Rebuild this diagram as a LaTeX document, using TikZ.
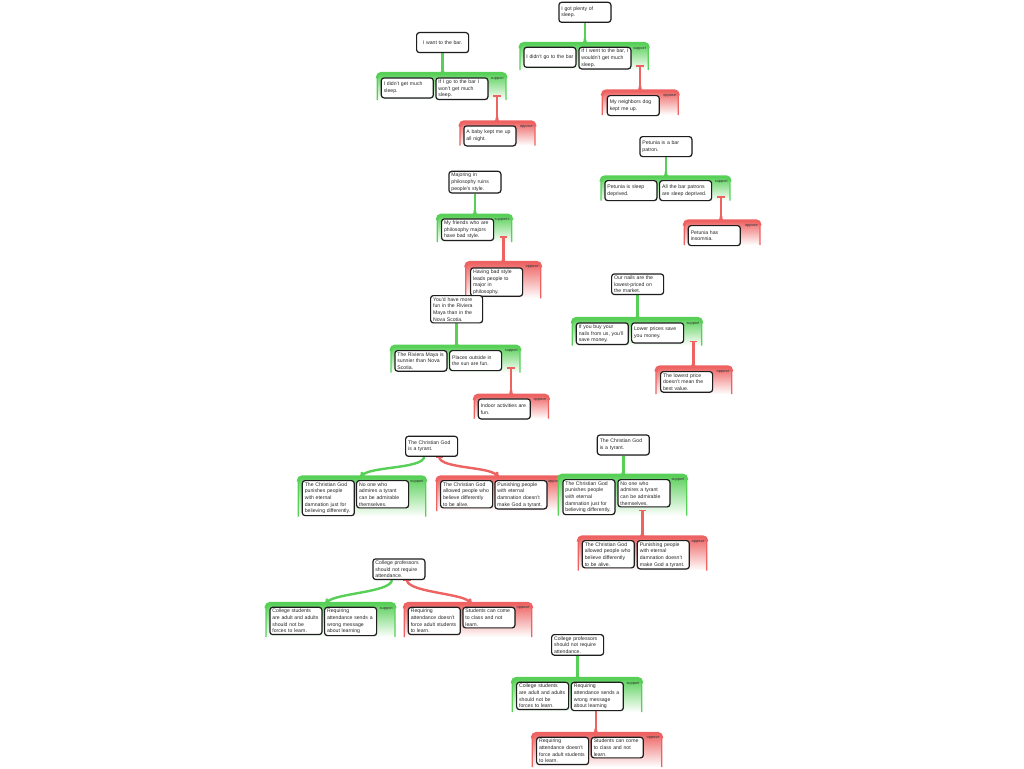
\documentclass[tikz,border=0pt]{standalone}
\usepackage{fontspec}
\setmainfont{Liberation Sans}
\usetikzlibrary{calc,shadows}
\definecolor{gcol}{RGB}{88,208,88}
\definecolor{rcol}{RGB}{238,98,98}
\definecolor{boxline}{RGB}{30,30,30}
\pgfdeclarelayer{bgzero}
\pgfdeclarelayer{bgone}
\pgfsetlayers{bgzero,bgone,main}

% container: color, x1, y1, x2, y2, label, name
\newcommand\argcont[7]{%
  \shade[top color=#1, bottom color=white]
    (#2,#5) -- (#2,#3+4) .. controls (#2,#3+1.8) and (#2+1.8,#3) .. (#2+4,#3)
    -- (#4-4,#3) .. controls (#4-1.8,#3) and (#4,#3+1.8) .. (#4,#3+4) -- (#4,#5) -- cycle;
  \draw[#1, line width=1.3pt]
    (#2,#5) -- (#2,#3+4) .. controls (#2,#3+1.8) and (#2+1.8,#3) .. (#2+4,#3)
    -- (#4-4,#3) .. controls (#4-1.8,#3) and (#4,#3+1.8) .. (#4,#3+4) -- (#4,#5);
  \draw[#1, line width=2.8pt]
    (#2,#3+5) -- (#2,#3+4) .. controls (#2,#3+1.8) and (#2+1.8,#3) .. (#2+4,#3)
    -- (#4-4,#3) .. controls (#4-1.8,#3) and (#4,#3+1.8) .. (#4,#3+4) -- (#4,#3+5);
  \node[lbl] (#7) at (#4-2,#3+3.2) {#6};
}
\newcommand\myflare[2]{%
  \fill[#1] ($(#2)+(-5.5,0.6)$) .. controls ($(#2)+(-2.2,0)$) and ($(#2)+(-1.2,-1.2)$) .. ($(#2)+(-1.2,-4.8)$)
    -- ($(#2)+(1.2,-4.8)$) .. controls ($(#2)+(1.2,-1.2)$) and ($(#2)+(2.2,0)$) .. ($(#2)+(5.5,0.6)$) -- cycle;}
\newcommand\mytee[2]{%
  \draw[#1, line width=1.2pt] ($(#2)+(-3.6,0)$) -- ($(#2)+(3.6,0)$);}

\begin{document}
\begin{tikzpicture}[x=1pt,y=-1pt,
  box/.style={draw=boxline, line width=1.2pt, rounded corners=2.8pt, fill=white,
    text width=47pt, inner xsep=2.5pt, inner ysep=1.7pt, minimum height=20pt,
    align=left, anchor=north west, text=black!85,
    font=\fontsize{5.15}{6.7}\selectfont,
    drop shadow={shadow xshift=0.6pt, shadow yshift=-0.6pt, opacity=0.3}},
  lbl/.style={font=\fontsize{3.9}{4.2}\selectfont, inner sep=0pt, anchor=north east, text=black!80},
  gstem/.style={draw=gcol, line width=2.4pt},
  rstem/.style={draw=rcol, line width=2.4pt}]

\begin{pgfonlayer}{bgzero}
\fill[white] (0,0) rectangle (1024,768);
\end{pgfonlayer}
\useasboundingbox (0,0) rectangle (1024,768);

% ---------------- Map A
\node[box, align=center] (cA) at (416,32) {I want to the bar.};
\node[box] (pA1) at (380.7,77.3) {I didn't get much\\sleep.};
\node[box] (pA2) at (435.3,77.3) {If I go to the bar I\\won't get much\\sleep.};
\node[box] (rA1) at (463.3,125.3) {A baby kept me up\\all night.};
\begin{pgfonlayer}{bgzero}
\argcont{gcol}{377.3}{73.3}{506}{100}{support}{lgA}
\argcont{rcol}{460}{121.7}{535}{145.5}{oppose}{lrA}
\end{pgfonlayer}
\begin{pgfonlayer}{bgone}
\coordinate (jA) at (cA.south |- 0,73.3);
\draw[gstem] (cA.south) -- (jA); \myflare{gcol}{jA}
\coordinate (tA) at (497,96); \coordinate (kA) at (497,121.7);
\draw[rstem] (tA) -- (kA); \myflare{rcol}{kA} \mytee{rcol}{tA}
\end{pgfonlayer}

% ---------------- Map B
\node[box] (cB) at (558.3,1.7) {I got plenty of\\sleep.};
\node[box, align=center] (pB1) at (523.3,46.7) {I didn't go to the bar};
\node[box] (pB2) at (578.3,46.7) {If I went to the bar, I\\wouldn't get much\\sleep.};
\node[box] (rB1) at (606.7,95) {My neighbors dog\\kept me up.};
\begin{pgfonlayer}{bgzero}
\argcont{gcol}{520}{43.3}{648.3}{70}{support}{lgB}
\argcont{rcol}{602.3}{90.7}{678.3}{115}{oppose}{lrB}
\end{pgfonlayer}
\begin{pgfonlayer}{bgone}
\coordinate (jB) at (cB.south |- 0,43.3);
\draw[gstem] (cB.south) -- (jB); \myflare{gcol}{jB}
\coordinate (tB) at (640,66); \coordinate (kB) at (640,90.7);
\draw[rstem] (tB) -- (kB); \myflare{rcol}{kB} \mytee{rcol}{tB}
\end{pgfonlayer}

% ---------------- Map C
\node[box] (cC) at (639.3,136) {Petunia is a bar\\patron.};
\node[box] (pC1) at (604.3,180) {Petunia is sleep\\deprived.};
\node[box] (pC2) at (659,180) {All the bar patrons\\are sleep deprived.};
\node[box] (rC1) at (687.7,225) {Petunia has\\insomnia.};
\begin{pgfonlayer}{bgzero}
\argcont{gcol}{601}{176.7}{730}{200.7}{support}{lgC}
\argcont{rcol}{684.3}{220.7}{760}{245}{oppose}{lrC}
\end{pgfonlayer}
\begin{pgfonlayer}{bgone}
\coordinate (jC) at (cC.south |- 0,176.7);
\draw[gstem] (cC.south) -- (jC); \myflare{gcol}{jC}
\coordinate (tC) at (721,197); \coordinate (kC) at (721,220.7);
\draw[rstem] (tC) -- (kC); \myflare{rcol}{kC} \mytee{rcol}{tC}
\end{pgfonlayer}

% ---------------- Map D
\node[box] (cD) at (448.3,170.7) {Majoring in\\philosophy ruins\\people's style.};
\node[box] (pD1) at (441,218.3) {My friends who are\\philosophy majors\\have bad style.};
\node[box] (rD1) at (470,267.3) {Having bad style\\leads people to\\major in\\philosophy.};
\begin{pgfonlayer}{bgzero}
\argcont{gcol}{437.3}{215}{511.7}{242}{supports}{lgD}
\argcont{rcol}{465.7}{262.3}{540.7}{298.3}{oppose}{lrD}
\end{pgfonlayer}
\begin{pgfonlayer}{bgone}
\coordinate (jD) at (cD.south |- 0,215);
\draw[gstem] (cD.south) -- (jD); \myflare{gcol}{jD}
\coordinate (tD) at (503.3,237); \coordinate (kD) at (503.3,262.3);
\draw[rstem] (tD) -- (kD); \myflare{rcol}{kD} \mytee{rcol}{tD}
\end{pgfonlayer}

% ---------------- Map E
\node[box] (cE) at (430,295) {You'd have more\\fun in the Riviera\\Maya than in the\\Nova Scotia.};
\node[box] (pE1) at (394.3,350) {The Riviera Maya is\\sunnier than Nova\\Scotia.};
\node[box] (pE2) at (449,350) {Places outside in\\the sun are fun.};
\node[box] (rE1) at (477.7,398.3) {Indoor activities are\\fun.};
\begin{pgfonlayer}{bgzero}
\argcont{gcol}{391}{346}{520}{372.7}{support}{lgE}
\argcont{rcol}{474.3}{395}{548.5}{418.5}{oppose}{lrE}
\end{pgfonlayer}
\begin{pgfonlayer}{bgone}
\coordinate (jE) at (cE.south |- 0,346);
\draw[gstem] (cE.south) -- (jE); \myflare{gcol}{jE}
\coordinate (tE) at (511,368); \coordinate (kE) at (511,395);
\draw[rstem] (tE) -- (kE); \myflare{rcol}{kE} \mytee{rcol}{tE}
\end{pgfonlayer}

% ---------------- Map F
\node[box] (cF) at (611,273.3) {Our nails are the\\lowest-priced on\\the market.};
\node[box] (pF1) at (575.7,322.3) {If you buy your\\nails from us, you'll\\save money.};
\node[box] (pF2) at (631,322.3) {Lower prices save\\you money.};
\node[box] (rF1) at (660,371) {The lowest price\\doesn't mean the\\best value.};
\begin{pgfonlayer}{bgzero}
\argcont{gcol}{572.3}{318.3}{701.7}{345.7}{support}{lgF}
\argcont{rcol}{656}{366.7}{731.7}{394}{oppose}{lrF}
\end{pgfonlayer}
\begin{pgfonlayer}{bgone}
\coordinate (jF) at (cF.south |- 0,318.3);
\draw[gstem] (cF.south) -- (jF); \myflare{gcol}{jF}
\coordinate (tF) at (693.3,341.5); \coordinate (kF) at (693.3,366.7);
\draw[rstem] (tF) -- (kF); \myflare{rcol}{kF} \mytee{rcol}{tF}
\end{pgfonlayer}

% ---------------- Map G
\node[box] (cG) at (405,435.7) {The Christian God\\is a tyrant.};
\node[box] (pG1) at (301.7,480) {The Christian God\\punishes people\\with eternal\\damnation just for\\believing differently.};
\node[box] (pG2) at (356,480) {No one who\\admires a tyrant\\can be admirable\\themselves.};
\node[box] (rG1) at (440,480) {The Christian God\\allowed people who\\believe differently\\to be alive.};
\node[box] (rG2) at (494.3,480) {Punishing people\\with eternal\\damnation doesn't\\make God a tyrant.};
\begin{pgfonlayer}{bgzero}
\argcont{gcol}{298.3}{476.7}{425.7}{516.7}{support}{lgG}
\argcont{rcol}{436.7}{476.7}{563}{511}{oppose}{lrG}
\end{pgfonlayer}
\begin{pgfonlayer}{bgone}
\coordinate (sG) at ($(cG.south)+(-7.5,0)$); \coordinate (jG) at (362,476.7);
\draw[gstem] (sG) .. controls ($(sG)+(-1,12.5)$) and ($(jG)+(1,-10.5)$) .. (jG); \myflare{gcol}{jG}
\coordinate (tG) at ($(cG.south)+(7.5,0)$); \coordinate (kG) at (497,476.7);
\draw[rstem] (tG) .. controls ($(tG)+(1,12.5)$) and ($(kG)+(-1,-10.5)$) .. (kG); \myflare{rcol}{kG} \mytee{rcol}{tG}
\end{pgfonlayer}

% ---------------- Map H
\node[box] (cH) at (596.7,434.3) {The Christian God\\is a tyrant.};
\node[box] (pH1) at (562.3,479) {The Christian God\\punishes people\\with eternal\\damnation just for\\believing differently.};
\node[box] (pH2) at (617.3,479) {No one who\\admires a tyrant\\can be admirable\\themselves.};
\node[box] (rH1) at (581.7,540) {The Christian God\\allowed people who\\believe differently\\to be alive.};
\node[box] (rH2) at (636.7,540) {Punishing people\\with eternal\\damnation doesn't\\make God a tyrant.};
\begin{pgfonlayer}{bgzero}
\argcont{gcol}{558.3}{475}{686.7}{515.5}{support}{lgH}
\argcont{rcol}{578.3}{536.7}{706.7}{570.5}{oppose}{lrH}
\end{pgfonlayer}
\begin{pgfonlayer}{bgone}
\coordinate (jH) at (cH.south |- 0,475);
\draw[gstem] (cH.south) -- (jH); \myflare{gcol}{jH}
\coordinate (tH) at (642.3,510.5); \coordinate (kH) at (642.3,536.7);
\draw[rstem] (tH) -- (kH); \myflare{rcol}{kH} \mytee{rcol}{tH}
\end{pgfonlayer}

% ---------------- Map I
\node[box] (cI) at (372.3,558.3) {College professors\\should not require\\attendance.};
\node[box] (pI1) at (269.3,606.7) {College students\\are adult and adults\\should not be\\forces to learn.};
\node[box] (pI2) at (324,606.7) {Requiring\\attendance sends a\\wrong message\\about learning};
\node[box] (rI1) at (407.7,606.7) {Requiring\\attendance doesn't\\force adult students\\to learn.};
\node[box] (rI2) at (462.3,606.7) {Students can come\\to class and not\\learn.};
\begin{pgfonlayer}{bgzero}
\argcont{gcol}{266}{603.3}{395}{637}{support}{lgI}
\argcont{rcol}{404.3}{603.3}{531.7}{637}{oppose}{lrI}
\end{pgfonlayer}
\begin{pgfonlayer}{bgone}
\coordinate (sI) at ($(cI.south)+(-7,0)$); \coordinate (jI) at (327,603.3);
\draw[gstem] (sI) .. controls ($(sI)+(-1,13)$) and ($(jI)+(1,-10)$) .. (jI); \myflare{gcol}{jI}
\coordinate (tI) at ($(cI.south)+(8,0)$); \coordinate (kI) at (470,603.3);
\draw[rstem] (tI) .. controls ($(tI)+(1,13)$) and ($(kI)+(-1,-10)$) .. (kI); \myflare{rcol}{kI} \mytee{rcol}{tI}
\end{pgfonlayer}

% ---------------- Map J
\node[box] (cJ) at (551,634) {College professors\\should not require\\attendance.};
\node[box] (pJ1) at (516,681.7) {College students\\are adult and adults\\should not be\\forces to learn.};
\node[box] (pJ2) at (570.7,681.7) {Requiring\\attendance sends a\\wrong message\\about learning};
\node[box] (rJ1) at (536,736.7) {Requiring\\attendance doesn't\\force adult students\\to learn.};
\node[box] (rJ2) at (590.7,736.7) {Students can come\\to class and not\\learn.};
\begin{pgfonlayer}{bgzero}
\argcont{gcol}{512.3}{678.3}{641.7}{712}{support}{lgJ}
\argcont{rcol}{532.3}{733.3}{661.7}{767}{oppose}{lrJ}
\end{pgfonlayer}
\begin{pgfonlayer}{bgone}
\coordinate (jJ) at (cJ.south |- 0,678.3);
\draw[gstem] (cJ.south) -- (jJ); \myflare{gcol}{jJ}
\coordinate (tJ) at (595.7,709); \coordinate (kJ) at (595.7,733.3);
\draw[rstem] (tJ) -- (kJ); \myflare{rcol}{kJ} \mytee{rcol}{tJ}
\end{pgfonlayer}

\end{tikzpicture}
\end{document}
